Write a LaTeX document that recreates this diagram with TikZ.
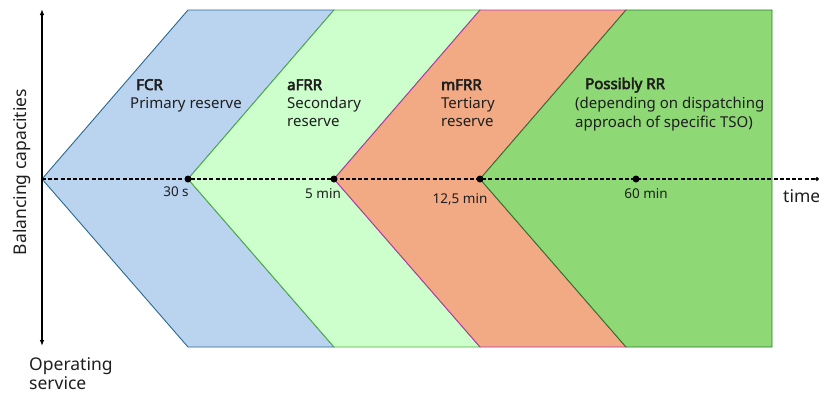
\documentclass[tikz,border=0pt]{standalone}
\usepackage{fontspec}
\setmainfont{Noto Sans}[AutoFakeBold=3.5]
\usetikzlibrary{arrows.meta}

\definecolor{txt}{RGB}{30,30,30}
\definecolor{fcrfill}{RGB}{186,212,240}
\definecolor{fcrline}{RGB}{40,105,145}
\definecolor{afrrfill}{RGB}{204,255,204}
\definecolor{afrrline}{RGB}{80,175,60}
\definecolor{mfrrfill}{RGB}{242,170,132}
\definecolor{mfrrline}{RGB}{185,50,170}
\definecolor{rrfill}{RGB}{143,216,118}
\definecolor{rrline}{RGB}{40,120,40}

\begin{document}
\begin{tikzpicture}[x=1pt,y=-1pt,
  band/.style={line width=0.9pt, line join=miter},
  axis/.style={line width=1.1pt, black},
  timeline/.style={line width=1.1pt, black, dash pattern=on 4pt off 2.2pt},
  milestone/.style={fill=black},
  head/.style={font=\fontsize{15}{18}\selectfont\bfseries, text=txt, anchor=base west, inner sep=0pt},
  body/.style={font=\fontsize{15}{18}\selectfont, text=txt, anchor=base west, inner sep=0pt},
  ticklabel/.style={font=\fontsize{13.5}{16}\selectfont, text=txt, anchor=base, inner sep=0pt},
  axislabel/.style={font=\fontsize{17.5}{20}\selectfont, text=txt, inner sep=0pt}]

\useasboundingbox (0,0) rectangle (819,394);

% reserve bands, drawn left to right so each border overlaps the previous one
\filldraw[band, fill=fcrfill, draw=fcrline]
  (42,179) -- (188,10) -- (334,10) -- (188,179) -- (334,347) -- (188,347) -- cycle;
\filldraw[band, fill=afrrfill, draw=afrrline]
  (188,179) -- (334,10) -- (480,10) -- (334,179) -- (480,347) -- (334,347) -- cycle;
\filldraw[band, fill=mfrrfill, draw=mfrrline]
  (334,179) -- (480,10) -- (626,10) -- (480,179) -- (626,347) -- (480,347) -- cycle;
\filldraw[band, fill=rrfill, draw=rrline]
  (480,179) -- (626,10) -- (772,10) -- (772,347) -- (626,347) -- cycle;

% axis points
\coordinate (origin) at (42,179);
\coordinate (vtop) at (42,9);
\coordinate (vbot) at (42,346);
\coordinate (t30s) at (188,179);
\coordinate (t5min) at (334,179);
\coordinate (t125min) at (480,179);
\coordinate (t60min) at (636,179);
\coordinate (tend) at (819,179);

% capacity axis and time axis
\draw[axis, {Latex[length=6pt,width=4.5pt]}-{Latex[length=6pt,width=4.5pt]}] (vtop) -- (vbot);
\draw[timeline, -{Circle[length=4pt]}] (origin) -- (tend);

% milestones on the time axis
\foreach \p in {t30s,t5min,t125min,t60min}
  \fill[milestone] (\p) circle (3.5pt);

% milestone labels
\node[ticklabel] (l30s) at (176,196) {30 s};
\node[ticklabel] (l5min) at (323,198) {5 min};
\node[ticklabel] (l125min) at (460,203) {12,5 min};
\node[ticklabel] (l60min) at (646,198) {60 min};

% band captions
\node[head] (fcr) at (136,90) {FCR};
\node[body] (fcr1) at (130,108) {Primary reserve};

\node[head] (afrr) at (287,90) {aFRR};
\node[body] (afrr1) at (287,108) {Secondary};
\node[body] (afrr2) at (287,126) {reserve};

\node[head] (mfrr) at (441,90) {mFRR};
\node[body] (mfrr1) at (441,108) {Tertiary};
\node[body] (mfrr2) at (441,126) {reserve};

\node[head] (rr) at (585,89) {Possibly RR};
\node[body] (rr1) at (575,108) {(depending on dispatching};
\node[body] (rr2) at (575,127) {approach of specific TSO)};

% axis captions
\node[axislabel, anchor=base west] (time) at (783,202) {time};
\node[axislabel, rotate=90, anchor=base] (cap) at (26,172) {Balancing capacities};
\node[axislabel, anchor=base west] (op1) at (29,370) {Operating};
\node[axislabel, anchor=base west] (op2) at (29,389) {service};

\end{tikzpicture}
\end{document}
